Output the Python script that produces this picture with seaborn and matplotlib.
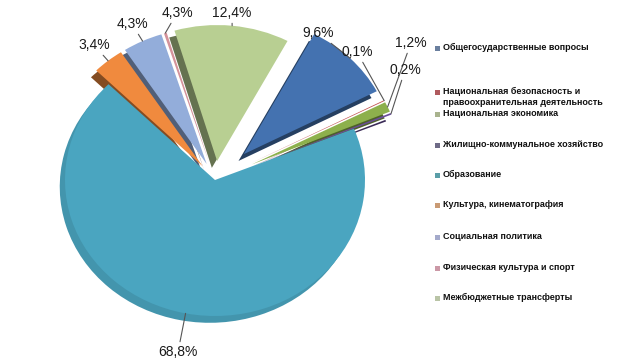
import numpy as np
import matplotlib
matplotlib.use("Agg")
import matplotlib.pyplot as plt
import seaborn as sns
from matplotlib.patches import Rectangle

# данные (доли расходов, %)
categories = ["Общегосударственные вопросы",
              "Национальная безопасность и\nправоохранительная деятельность",
              "Национальная экономика",
              "Жилищно-коммунальное хозяйство",
              "Образование",
              "Культура, кинематография",
              "Социальная политика",
              "Физическая культура и спорт",
              "Межбюджетные трансферты"]
shares = [9.6, 0.1, 1.2, 0.2, 68.8, 3.4, 4.3, 0.3, 12.4]
share_labels = ["9,6%", "0,1%", "1,2%", "0,2%", "68,8%", "3,4%", "4,3%", "4,3%", "12,4%"]
colors = ["#4472B0", "#C0504D", "#8DB04C", "#6A4C9C", "#4AA5C0",
          "#F08A3E", "#93ADDA", "#D4929A", "#B8CF92"]
legend_colors = ["#6A7F9E", "#B05A5E", "#A9B38E", "#6E6A86", "#5A9EA8",
                 "#C99A74", "#A4AACB", "#CB98A6", "#B9C4A6"]
explode = [0.27, 0.27, 0.27, 0.27, 0.0, 0.13, 0.13, 0.13, 0.14]

# положение подписей и строк легенды (пиксели от верхнего края)
label_pos = [(318, 33), (357, 52), (411, 43), (405, 70), (178, 352),
             (94, 45), (132, 24), (177, 13), (232, 13)]
legend_y = [48, 92, 114, 145, 175, 205, 237, 268, 298]

sns.set_theme(style="white")
plt.rcParams["font.family"] = ["Liberation Sans", "DejaVu Sans"]

W, H = 640, 360
fig = plt.figure(figsize=(6.4, 3.6), dpi=100)

cx, cy, rx, ry = 215, 180, 150, 136
lim = 1.4
ax = fig.add_axes([(cx - lim * rx) / W, (H - cy - lim * ry) / H,
                   2 * lim * rx / W, 2 * lim * ry / H])

pal = sns.color_palette(colors)
dark = [tuple(c * 0.55 for c in col) for col in pal]
dark[4] = tuple(c * 0.9 for c in pal[4])
start = 90 - 28

# боковая грань (объём)
ax.pie(shares, explode=explode, colors=dark, startangle=start,
       counterclock=False, center=(-0.035, -0.05),
       wedgeprops=dict(linewidth=0))
wedges, _ = ax.pie(shares, explode=explode, colors=pal, startangle=start,
                   counterclock=False, wedgeprops=dict(linewidth=0))
ax.set_aspect("auto")
ax.set_xlim(-lim, lim)
ax.set_ylim(-lim, lim)
ax.axis("off")

for w, txt, (px, py) in zip(wedges, share_labels, label_pos):
    ang = np.deg2rad((w.theta1 + w.theta2) / 2)
    x0, y0 = w.center
    xy = (x0 + w.r * np.cos(ang), y0 + w.r * np.sin(ang))
    ax.annotate(txt, xy=xy, xytext=(px, H - py), textcoords="figure pixels",
                ha="center", va="center", fontsize=10, color="#1a1a1a",
                annotation_clip=False,
                arrowprops=dict(arrowstyle="-", color="#555555", lw=0.8,
                                shrinkA=0, shrinkB=0))

# легенда
for name, col, y in zip(categories, legend_colors, legend_y):
    fig.patches.append(Rectangle(((437 - 2.5) / W, (H - y - 2.5) / H),
                                 5 / W, 5 / H, transform=fig.transFigure,
                                 facecolor=col, edgecolor="none"))
    fig.text(443 / W, (H - y + 5) / H, name, ha="left", va="top",
             fontsize=6.5, fontweight="bold", color="#111111",
             linespacing=1.25)

fig.savefig("out.png", dpi=100)
